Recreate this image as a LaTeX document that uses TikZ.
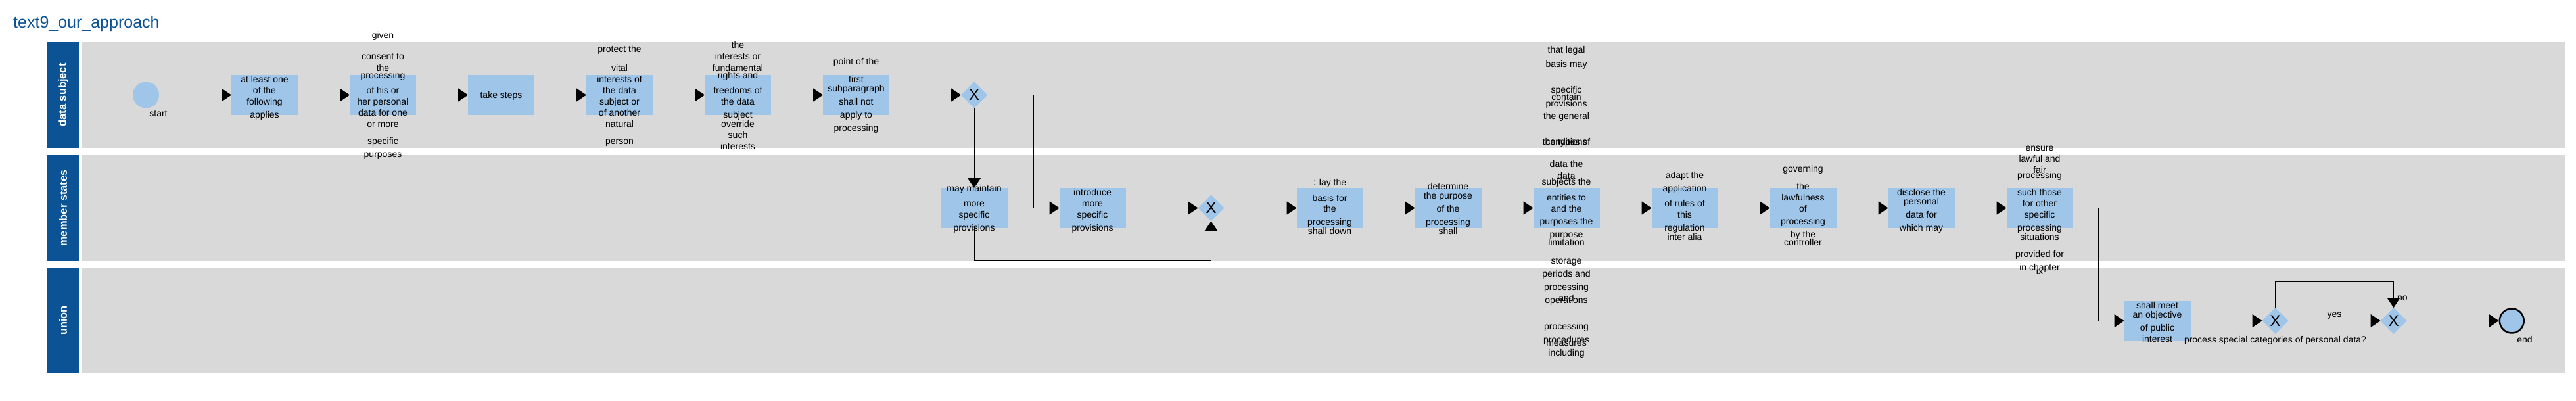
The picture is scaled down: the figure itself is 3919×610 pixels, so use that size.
\documentclass[tikz,border=0pt]{standalone}
\usepackage{fontspec}
\setmainfont{Liberation Sans}
\usetikzlibrary{positioning,arrows.meta,shapes.geometric}
\definecolor{taskblue}{HTML}{9FC5E8}
\definecolor{lanegray}{HTML}{D9D9D9}
\definecolor{headblue}{HTML}{0B5394}
% label lines of a task, given as y/text
\newcommand{\steptext}[2]{%
  \foreach \ty/\ttxt [count=\k] in {#2}
    \node[txt] (#1-\k) at (#1.center |- 0,\ty) {\ttxt};}

\begin{document}
\begin{tikzpicture}[x=1pt, y=-1pt,
  font=\fontsize{14}{16}\selectfont,
  task/.style={fill=taskblue, minimum width=101pt, minimum height=61pt,
               inner sep=0pt, outer sep=0pt},
  gate/.style={diamond, fill=taskblue, minimum size=40pt, inner sep=0pt,
               outer sep=0pt, font=\fontsize{24}{24}\selectfont},
  startev/.style={circle, fill=taskblue, minimum size=40pt, inner sep=0pt, outer sep=0pt},
  endev/.style={circle, draw=black, line width=2.5pt, fill=taskblue,
                minimum size=37pt, inner sep=0pt},
  txt/.style={inner sep=0pt, text height=10pt, text depth=0pt},
  lanehead/.style={fill=headblue, text=white, rotate=90, minimum width=161pt,
                   minimum height=48pt, inner sep=0pt,
                   font=\fontsize{16.5}{18}\selectfont\bfseries},
  flow/.style={-{Triangle[length=15pt, width=20pt]}, line width=1pt}]

\useasboundingbox (0,0) rectangle (3919,610);

\node[font=\fontsize{25}{28}\selectfont, text=headblue, anchor=base west,
      inner sep=0pt] (title) at (20,43) {text9\_our\_approach};

\foreach \ly/\lname [count=\i] in {64/data subject,236/member states,407/union} {
  \fill[lanegray] (125,\ly) rectangle (3902,\ly+161);
  \node[lanehead] (lane\i) at (96,\ly+80.5) {\lname};
}

% data subject
\node[startev] (start) at (222,144.5) {};
\node[txt] (startlbl) at (241,172) {start};
\node[task, right=110pt of start] (ds1) {};
\node[task, right=79pt of ds1] (ds2) {};
\node[task, right=79pt of ds2] (ds3) {};
\node[task, right=79pt of ds3] (ds4) {};
\node[task, right=79pt of ds4] (ds5) {};
\node[task, right=79pt of ds5] (ds6) {};
\node[gate, right=109pt of ds6] (gw1) {X};

% member states
\node[task, below=121.5pt of gw1] (ms1) {};
\node[task, right=79pt of ms1] (ms2) {};
\node[gate, right=110pt of ms2] (gw2) {X};
\node[task, right=110pt of gw2] (ms3) {};
\node[task, right=79pt of ms3] (ms4) {};
\node[task, right=79pt of ms4] (ms5) {};
\node[task, right=79pt of ms5] (ms6) {};
\node[task, right=79pt of ms6] (ms7) {};
\node[task, right=79pt of ms7] (ms8) {};
\node[task, right=79pt of ms8] (ms9) {};

% union
\node[task] (un1) at (3282,488) {};
\node[gate, right=109pt of un1] (gw3) {X};
\node[gate, right=140pt of gw3] (gw4) {X};
\node[endev, right=140pt of gw4] (endc) {};
\node[txt] (endlbl) at (3841,516) {end};
\node[txt, below=3pt of gw3] (q3) {process special categories of personal data?};

\steptext{ds1}{120/at least one,137/of the,154/following,174/applies}
\steptext{ds2}{54/given,86/consent to,103/the,114/processing,137/of his or,154/her personal,171/data for one,188/or more,214/specific,234/purposes}
\steptext{ds3}{144.5/take steps}
\steptext{ds4}{74/protect the,103/vital,120/interests of,137/the data,154/subject or,171/of another,188/natural,214/person}
\steptext{ds5}{69/the,86/interests or,103/fundamental,114/rights and,137/freedoms of,154/the data,174/subject,188/override,205/such,222/interests}
\steptext{ds6}{94/point of the,120/first,134/subparagraph,154/shall not,174/apply to,194/processing}
\steptext{ms1}{286/may maintain,309/more,326/specific,346/provisions}
\steptext{ms2}{292/introduce,309/more,326/specific,346/provisions}
\steptext{ms3}{277/: lay the,301/basis for,317/the,337/processing,351/shall down}
\steptext{ms4}{283/determine,297/the purpose,317/of the,337/processing,351/shall}
\steptext{ms5}{76/that legal,97/basis may,136/specific,147/contain,157/provisions,176/the general,215/conditions,215/the types of,249/data the,267/data,276/subjects the,300/entities to,317/and the,336/purposes the,356/purpose,368/limitation,396/storage,416/periods and,436/processing,453/and,456/operations,496/processing,516/procedures,521/measures,536/including}
\steptext{ms6}{266/adapt the,286/application,309/of rules of,326/this,346/regulation,360/inter alia}
\steptext{ms7}{256/governing,283/the,300/lawfulness,317/of,336/processing,356/by the,368/controller}
\steptext{ms8}{292/disclose the,306/personal,326/data for,346/which may}
\steptext{ms9}{224/ensure,241/lawful and,258/fair,266/processing,292/such those,309/for other,326/specific,346/processing,360/situations,386/provided for,406/in chapter,412/ix}
\steptext{un1}{464/shall meet,478/an objective,498/of public,515/interest}

\foreach \a/\b in {start/ds1,ds1/ds2,ds2/ds3,ds3/ds4,ds4/ds5,ds5/ds6,ds6/gw1,
                   gw1/ms1,ms2/gw2,gw2/ms3,ms3/ms4,ms4/ms5,ms5/ms6,ms6/ms7,
                   ms7/ms8,ms8/ms9,un1/gw3,gw4/endc}
  \draw[flow] (\a) -- (\b);
\draw[flow] (gw1.east) -- ++(70,0) |- (ms2.west);
\draw[flow] (ms1.south) -- ++(0,49.5) -| (gw2.south);
\draw[flow] (ms9.east) -- ++(39,0) |- (un1.west);
\draw[flow] (gw3) -- node[txt, above=5pt] (yes) {yes} (gw4);
\draw[flow] (gw3.north) -- ++(0,-40) -| node[txt, pos=0.8, right=5pt] (no) {no} (gw4.north);
\end{tikzpicture}
\end{document}
